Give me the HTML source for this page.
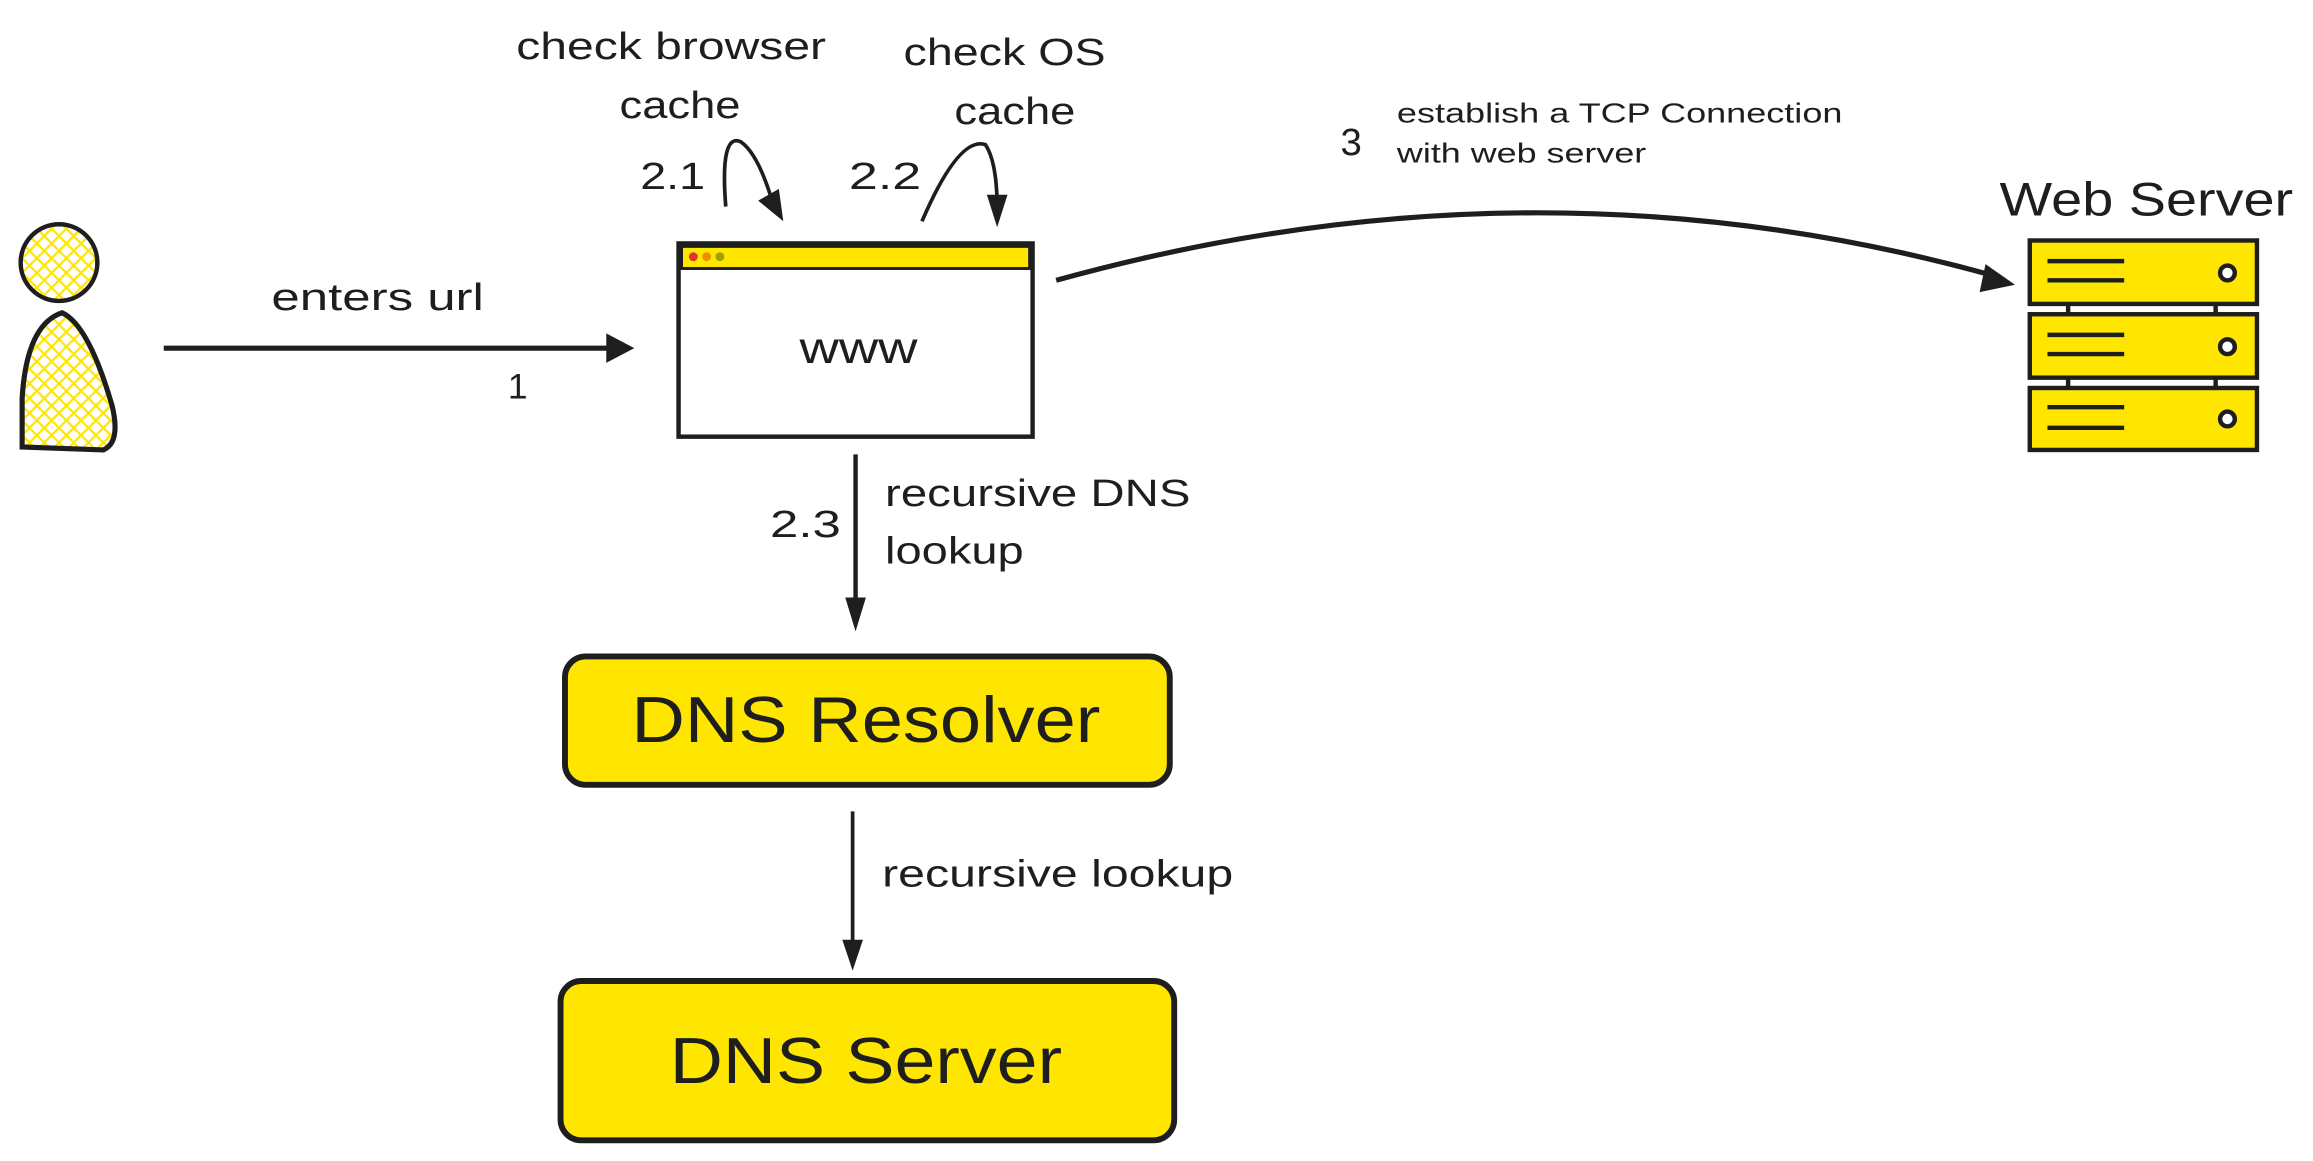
<!DOCTYPE html>
<html><head><meta charset="utf-8"><style>
html,body{margin:0;padding:0;background:#fff;}
svg{display:block;}
text{font-family:"Liberation Sans",sans-serif;fill:#1e1e1e;}
</style></head><body>
<svg width="2313" height="1161" viewBox="0 0 1568 787" xmlns="http://www.w3.org/2000/svg">
<defs>
<pattern id="hatch" width="10" height="10" patternUnits="userSpaceOnUse">
<path d="M0 0L10 10M10 0L0 10" stroke="#ffe600" stroke-width="1.5"/>
</pattern>
</defs>
<rect width="1568" height="787" fill="#fff"/>
<!-- person -->
<ellipse cx="40" cy="178" rx="26" ry="26" fill="url(#hatch)" stroke="#1e1e1e" stroke-width="3"/>
<path d="M15 303 L15 270 Q18 220 42 212 Q60 220 76 275 Q82 300 70 305 Z" fill="url(#hatch)" stroke="#1e1e1e" stroke-width="3.5"/>
<!-- arrow 1 -->
<line x1="111" y1="236" x2="420" y2="236" stroke="#1e1e1e" stroke-width="3.5"/>
<path d="M411 226 L430 236 L411 246Z" fill="#1e1e1e"/>
<text x="256" y="210" font-size="26" text-anchor="middle" textLength="144" lengthAdjust="spacingAndGlyphs">enters url</text>
<text x="351" y="270" font-size="24" text-anchor="middle">1</text>
<!-- browser -->
<rect x="460" y="165" width="240" height="131" fill="#fff" stroke="#1e1e1e" stroke-width="3"/>
<rect x="462" y="167" width="236" height="15" fill="#ffe600" stroke="#1e1e1e" stroke-width="2"/>
<circle cx="470" cy="174" r="3" fill="#e03131"/>
<circle cx="479" cy="174" r="3" fill="#f08c00"/>
<circle cx="488" cy="174" r="3" fill="#a0a000"/>
<text x="582" y="246" font-size="30" text-anchor="middle" textLength="80" lengthAdjust="spacingAndGlyphs">www</text>
<!-- 2.1 -->
<text x="455" y="40" font-size="26" text-anchor="middle" textLength="210" lengthAdjust="spacingAndGlyphs">check browser</text>
<text x="461" y="80" font-size="26" text-anchor="middle" textLength="82" lengthAdjust="spacingAndGlyphs">cache</text>
<text x="456" y="128" font-size="26" text-anchor="middle" textLength="44" lengthAdjust="spacingAndGlyphs">2.1</text>
<path d="M492 140 Q488 90 502 96 Q514 104 524 138" fill="none" stroke="#1e1e1e" stroke-width="2.5"/>
<path d="M514 136 L531 150 L528 128Z" fill="#1e1e1e"/>
<!-- 2.2 -->
<text x="681" y="44" font-size="26" text-anchor="middle" textLength="137" lengthAdjust="spacingAndGlyphs">check OS</text>
<text x="688" y="84" font-size="26" text-anchor="middle" textLength="82" lengthAdjust="spacingAndGlyphs">cache</text>
<text x="600" y="128" font-size="26" text-anchor="middle" textLength="49" lengthAdjust="spacingAndGlyphs">2.2</text>
<path d="M625 150 Q650 92 668 98 Q676 110 676 142" fill="none" stroke="#1e1e1e" stroke-width="2.5"/>
<path d="M669 132 L676 154 L683 132Z" fill="#1e1e1e"/>
<!-- 3 -->
<text x="916" y="105" font-size="26" text-anchor="middle">3</text>
<text x="947" y="83" font-size="19" textLength="302" lengthAdjust="spacingAndGlyphs">establish a TCP Connection</text>
<text x="947" y="110" font-size="19" textLength="169" lengthAdjust="spacingAndGlyphs">with web server</text>
<path d="M716 190 Q1040 100 1352 187" fill="none" stroke="#1e1e1e" stroke-width="3.5"/>
<path d="M1346 179 L1366 193 L1342 198Z" fill="#1e1e1e"/>
<!-- web server -->
<text x="1455" y="146" font-size="32" text-anchor="middle" textLength="199" lengthAdjust="spacingAndGlyphs">Web Server</text>
<g stroke="#1e1e1e" stroke-width="3">
<line x1="1402" y1="206" x2="1402" y2="263"/>
<line x1="1502" y1="206" x2="1502" y2="263"/>
<rect x="1376" y="163" width="154" height="43" fill="#ffe600"/>
<rect x="1376" y="213" width="154" height="43" fill="#ffe600"/>
<rect x="1376" y="263" width="154" height="42" fill="#ffe600"/>
<line x1="1388" y1="177" x2="1440" y2="177"/><line x1="1388" y1="190" x2="1440" y2="190"/>
<line x1="1388" y1="227" x2="1440" y2="227"/><line x1="1388" y1="240" x2="1440" y2="240"/>
<line x1="1388" y1="276" x2="1440" y2="276"/><line x1="1388" y1="290" x2="1440" y2="290"/>
<circle cx="1510" cy="185" r="5" fill="#fff"/>
<circle cx="1510" cy="235" r="5" fill="#fff"/>
<circle cx="1510" cy="284" r="5" fill="#fff"/>
</g>
<!-- 2.3 -->
<line x1="580" y1="308" x2="580" y2="410" stroke="#1e1e1e" stroke-width="3"/>
<path d="M573 405 L580 428 L587 405Z" fill="#1e1e1e"/>
<text x="546" y="364" font-size="26" text-anchor="middle" textLength="48" lengthAdjust="spacingAndGlyphs">2.3</text>
<text x="600" y="343" font-size="26" textLength="207" lengthAdjust="spacingAndGlyphs">recursive DNS</text>
<text x="600" y="382" font-size="26" textLength="94" lengthAdjust="spacingAndGlyphs">lookup</text>
<!-- DNS resolver -->
<rect x="383" y="445" width="410" height="87" rx="14" fill="#ffe600" stroke="#1e1e1e" stroke-width="4"/>
<text x="587" y="503" font-size="44" text-anchor="middle" textLength="318" lengthAdjust="spacingAndGlyphs">DNS Resolver</text>
<line x1="578" y1="550" x2="578" y2="640" stroke="#1e1e1e" stroke-width="2.5"/>
<path d="M571 637 L578 658 L585 637Z" fill="#1e1e1e"/>
<text x="598" y="601" font-size="26" textLength="238" lengthAdjust="spacingAndGlyphs">recursive lookup</text>
<!-- DNS server -->
<rect x="380" y="665" width="416" height="108" rx="14" fill="#ffe600" stroke="#1e1e1e" stroke-width="4"/>
<text x="587" y="734" font-size="44" text-anchor="middle" textLength="266" lengthAdjust="spacingAndGlyphs">DNS Server</text>
</svg>
</body></html>
